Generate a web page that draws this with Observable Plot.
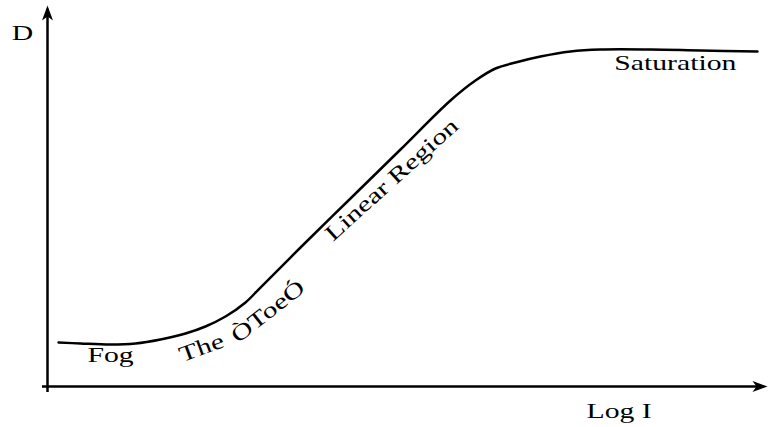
<!DOCTYPE html>
<html>
<head>
<meta charset="utf-8">
<script src="https://cdn.jsdelivr.net/npm/d3@7"></script>
<script src="https://cdn.jsdelivr.net/npm/@observablehq/plot@0.6"></script>
<style>
  html, body { margin: 0; padding: 0; background: #fff; }
</style>
</head>
<body>
<script>
// Characteristic (H&D) curve: density D versus log exposure (arbitrary units 0..100)
const logI = [1.53, 4.58, 8.75, 12.22, 15.69, 19.17, 21.94, 24.72, 27.5, 29.58, 35.14, 42.08, 49.03, 55.97, 59.44, 62.22, 65, 68.47, 72.64, 76.81, 83.75, 90.69, 98.61];
const density = [11.55, 11.29, 11.02, 11.29, 12.34, 13.91, 15.75, 18.37, 22.05, 25.98, 36.48, 49.34, 62.2, 75.07, 80.31, 83.46, 85.04, 86.61, 87.93, 88.45, 88.45, 88.19, 87.93];

// Region labels
const labelText = ["Fog", "The", "ÒToeÓ", "Linear Region", "Saturation"];
const labelX = [8.75, 21.4, 30.6, 47.8, 87.2];
const labelY = [8.4, 10.2, 19.7, 54.3, 84.8];
const labelAngle = [0, -20, -38, -42, 0];

// Axis titles
const axisText = ["D", "Log I"];
const axisX = [-3.47, 79.4];
const axisY = [92.9, -6.3];

const curve = logI.map((x, i) => ({x, y: density[i]}));
const labels = labelText.map((t, i) => ({t, x: labelX[i], y: labelY[i], a: labelAngle[i]}));
const axisLabels = axisText.map((t, i) => ({t, x: axisX[i], y: axisY[i]}));

// Stealth-style arrowhead, tip at the anchor point, pointing up
const arrowHead = {
  draw(context) {
    context.moveTo(0, 0);
    context.lineTo(-5.5, 15);
    context.lineTo(0, 11);
    context.lineTo(5.5, 15);
    context.closePath();
  }
};

const font = "'Liberation Serif', 'Times New Roman', serif";

const chart = Plot.plot({
  width: 769,
  height: 427,
  marginLeft: 47,
  marginRight: 2,
  marginTop: 5,
  marginBottom: 41,
  x: {domain: [0, 100], axis: null},
  y: {domain: [0, 100], axis: null},
  style: {background: "#fff", fontFamily: font},
  marks: [
    Plot.ruleY([0], {x1: -0.7, x2: 99, stroke: "#000", strokeWidth: 2.5}),
    Plot.ruleX([0], {y1: -1.6, y2: 99, stroke: "#000", strokeWidth: 2.5}),
    Plot.dot([{x: 100, y: 0, r: 90}, {x: 0, y: 100, r: 0}], {x: "x", y: "y", rotate: "r", symbol: arrowHead, fill: "#000", stroke: "none"}),
    Plot.line(curve, {x: "x", y: "y", curve: "catmull-rom", stroke: "#000", strokeWidth: 2.5}),
    Plot.text(labels, {x: "x", y: "y", text: "t", rotate: "a", fontSize: 22, fill: "#000", textAnchor: "middle", lineAnchor: "middle", fontFamily: font}),
    Plot.text(axisLabels, {x: "x", y: "y", text: "t", fontSize: 22, fill: "#000", textAnchor: "middle", lineAnchor: "middle", fontFamily: font})
  ]
});
// The reference typeface is set wide: stretch each label along its baseline
d3.select(chart).selectAll("text").each(function () {
  const t = this.getAttribute("transform") || "";
  this.setAttribute("transform", t + " scale(1.35,1)");
});
document.body.appendChild(chart);
</script>
</body>
</html>
